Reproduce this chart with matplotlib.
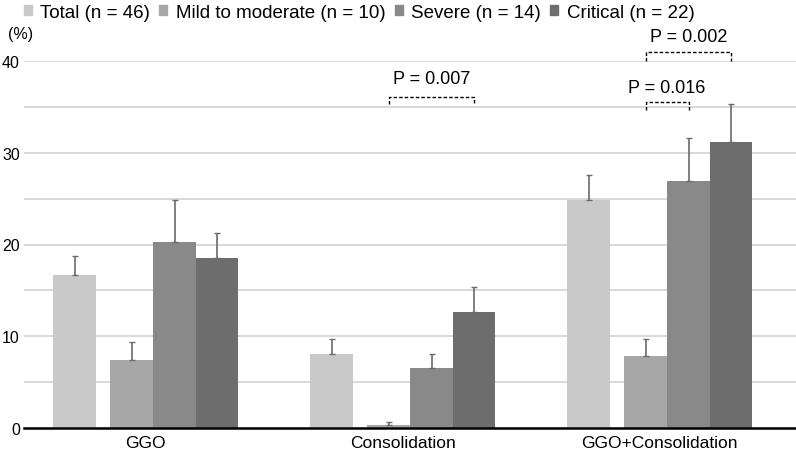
import numpy as np
import matplotlib
matplotlib.use("Agg")
import matplotlib.pyplot as plt
from matplotlib.patches import Patch

plt.rcParams['font.family'] = ['Liberation Sans', 'DejaVu Sans']

# data
categories = ["GGO", "Consolidation", "GGO+Consolidation"]
series_names = ["Total (n = 46)", "Mild to moderate (n = 10)", "Severe (n = 14)", "Critical (n = 22)"]
total = [16.7, 8.1, 24.8]
total_sd = [2.0, 1.6, 2.8]
mild = [7.45, 0.3, 7.8]
mild_sd = [1.95, 0.4, 1.9]
severe = [20.3, 6.5, 26.9]
severe_sd = [4.6, 1.6, 4.7]
critical = [18.5, 12.6, 31.2]
critical_sd = [2.7, 2.8, 4.1]

# (category index, series a, series b, label)
p_values = [
    (1, 1, 3, "P = 0.007"),
    (2, 1, 2, "P = 0.016"),
    (2, 1, 3, "P = 0.002"),
]
y_ticks = [0, 10, 20, 30, 40]

colors = ["#c9c9c9", "#a7a7a7", "#898989", "#6d6d6d"]
offsets = [-0.276, -0.054, 0.113, 0.278]
bar_w = 0.167
# bracket top, tick bottom, text baseline (in data units)
bracket_levels = [(36.1, 35.3, 37.6), (35.5, 34.7, 36.65), (40.95, 40.0, 42.2)]

fig = plt.figure(figsize=(7.96, 4.52), dpi=100)
ax = fig.add_axes([24 / 796, 23 / 452, 1 - 24 / 796, (429 - 62) / 452])

values = [total, mild, severe, critical]
sds = [total_sd, mild_sd, severe_sd, critical_sd]
x = np.arange(len(categories))
for i in range(4):
    xs = x + offsets[i]
    ax.bar(xs, values[i], width=bar_w, color=colors[i], zorder=2)
    ax.errorbar(xs, values[i], yerr=[np.zeros(3), sds[i]], fmt='none',
                ecolor="#6b6b6b", elinewidth=1.2, capsize=2, capthick=1, zorder=3)

for (ci, a, b, label), (top, bot, ty) in zip(p_values, bracket_levels):
    xa = ci + offsets[a]
    xb = ci + offsets[b]
    ax.plot([xa, xa, xb, xb], [bot, top, top, bot], color="black", lw=1,
            ls=(0, (2.5, 1.5)), clip_on=False, zorder=4)
    ax.text((xa + xb) / 2, ty, label, ha="center", va="baseline", fontsize=13)

ax.set_xlim(-0.473, 2.531)
ax.set_ylim(0, 40)
ax.set_yticks(y_ticks)
ax.set_yticks(np.arange(0, 41, 5), minor=True)
ax.tick_params(axis="y", which="both", length=0, pad=3, labelsize=11.5)
ax.set_xticks(x)
ax.set_xticklabels(categories, fontsize=12.5)
ax.tick_params(axis="x", length=0, pad=5)
ax.grid(axis="y", which="both", color="#d6d6d6", lw=1.3, zorder=0)
ax.set_axisbelow(True)
for s in ["top", "right", "left"]:
    ax.spines[s].set_visible(False)
ax.spines["bottom"].set_linewidth(1.8)
ax.spines["bottom"].set_zorder(5)

fig.text(8 / 796, 1 - 34 / 452, "(%)", fontsize=11.5, va="center", ha="left")

handles = [Patch(color=c) for c in colors]
fig.legend(handles, series_names, ncol=4, loc="center left", bbox_to_anchor=(0.03, 1 - 13 / 452),
           frameon=False, fontsize=13.5, handlelength=0.42, handleheight=0.42,
           handletextpad=0.45, columnspacing=0.5, borderaxespad=0, borderpad=0)

fig.savefig("out.png", dpi=100)
